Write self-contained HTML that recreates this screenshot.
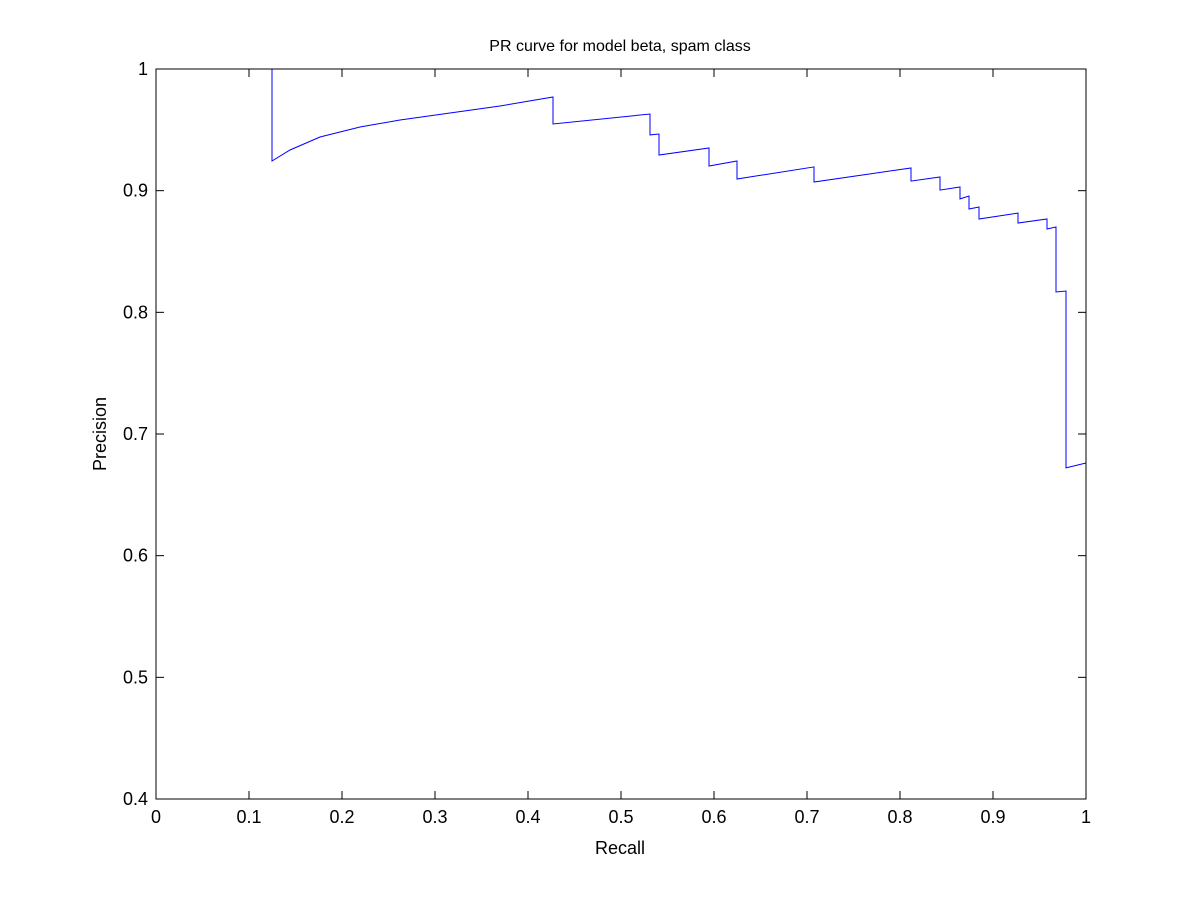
<!DOCTYPE html>
<html><head><meta charset="utf-8"><style>
body{margin:0;background:#fff}
svg text{font-family:"Liberation Sans",Arial,sans-serif;fill:#000}
</style></head><body>
<svg id="chart" width="1200" height="900" xmlns="http://www.w3.org/2000/svg">
<rect width="1200" height="900" fill="#fff"/>
<text x="620" y="51" font-size="16" text-anchor="middle">PR curve for model beta, spam class</text>
<text x="620" y="854" font-size="18" text-anchor="middle">Recall</text>
<text x="106" y="434" font-size="18" text-anchor="middle" transform="rotate(-90 106 434)">Precision</text>
<g id="ticks"></g>
<g id="series"></g>
<rect x="156" y="69" width="930" height="730" fill="none" stroke="#000" stroke-width="1"/>
</svg>
<script>
const xTicks=[0,0.1,0.2,0.3,0.4,0.5,0.6,0.7,0.8,0.9,1];
const xTickLabels=["0","0.1","0.2","0.3","0.4","0.5","0.6","0.7","0.8","0.9","1"];
const yTicks=[0.4,0.5,0.6,0.7,0.8,0.9,1];
const yTickLabels=["0.4","0.5","0.6","0.7","0.8","0.9","1"];
const recall=[.1247,.1247,.1441,.1763,.2194,.2624,.3161,.3699,.4269,.4269,.5312,.5312,.5409,.5409,.5946,.5946,.6247,.6247,.7075,.7075,.8118,.8118,.8430,.8430,.8645,.8645,.8742,.8742,.8849,.8849,.9269,.9269,.9581,.9581,.9677,.9677,.9785,.9785,1];
const precision=[1,.9244,.9334,.9441,.9523,.9581,.9638,.9696,.9770,.9548,.9630,.9458,.9466,.9293,.9351,.9203,.9244,.9096,.9195,.9071,.9186,.9079,.9112,.9005,.9030,.8932,.8956,.8849,.8866,.8767,.8816,.8734,.8767,.8685,.8701,.8167,.8175,.6721,.6762];
const NS="http://www.w3.org/2000/svg";
const X0=156,X1=1086,Y0=799,Y1=69;
function sx(v){return X0+(v-0)/(1-0)*(X1-X0);}
function sy(v){return Y0-(v-0.4)/(1-0.4)*(Y0-Y1);}
const tg=document.getElementById('ticks');
xTicks.forEach((t,i)=>{
  const x=sx(t);
  [[Y0,Y0-8],[Y1,Y1+8]].forEach(([a,b])=>{
    const l=document.createElementNS(NS,'line');
    l.setAttribute('x1',x);l.setAttribute('x2',x);l.setAttribute('y1',a);l.setAttribute('y2',b);
    l.setAttribute('stroke','#000');
    
    
    tg.appendChild(l);
  });
  const tx=document.createElementNS(NS,'text');
  tx.setAttribute('x',x);tx.setAttribute('y',Y0+24);tx.setAttribute('font-size','18');tx.setAttribute('text-anchor','middle');
  tx.textContent=xTickLabels[i];
  
  
  tg.appendChild(tx);
});
yTicks.forEach((t,i)=>{
  const y=sy(t);
  [[X0,X0+8],[X1,X1-8]].forEach(([a,b])=>{
    const l=document.createElementNS(NS,'line');
    l.setAttribute('x1',a);l.setAttribute('x2',b);l.setAttribute('y1',y);l.setAttribute('y2',y);
    l.setAttribute('stroke','#000');
    
    
    tg.appendChild(l);
  });
  const tx=document.createElementNS(NS,'text');
  tx.setAttribute('x',X0-8);tx.setAttribute('y',y+6);tx.setAttribute('font-size','18');tx.setAttribute('text-anchor','end');
  tx.textContent=yTickLabels[i];
  
  
  tg.appendChild(tx);
});
const pl=document.createElementNS(NS,'polyline');
pl.setAttribute('points',recall.map((r,i)=>sx(r).toFixed(1)+','+sy(precision[i]).toFixed(1)).join(' '));
pl.setAttribute('fill','none');pl.setAttribute('stroke','#0000ff');pl.setAttribute('stroke-width','1');


document.getElementById('series').appendChild(pl);
</script>
</body></html>
